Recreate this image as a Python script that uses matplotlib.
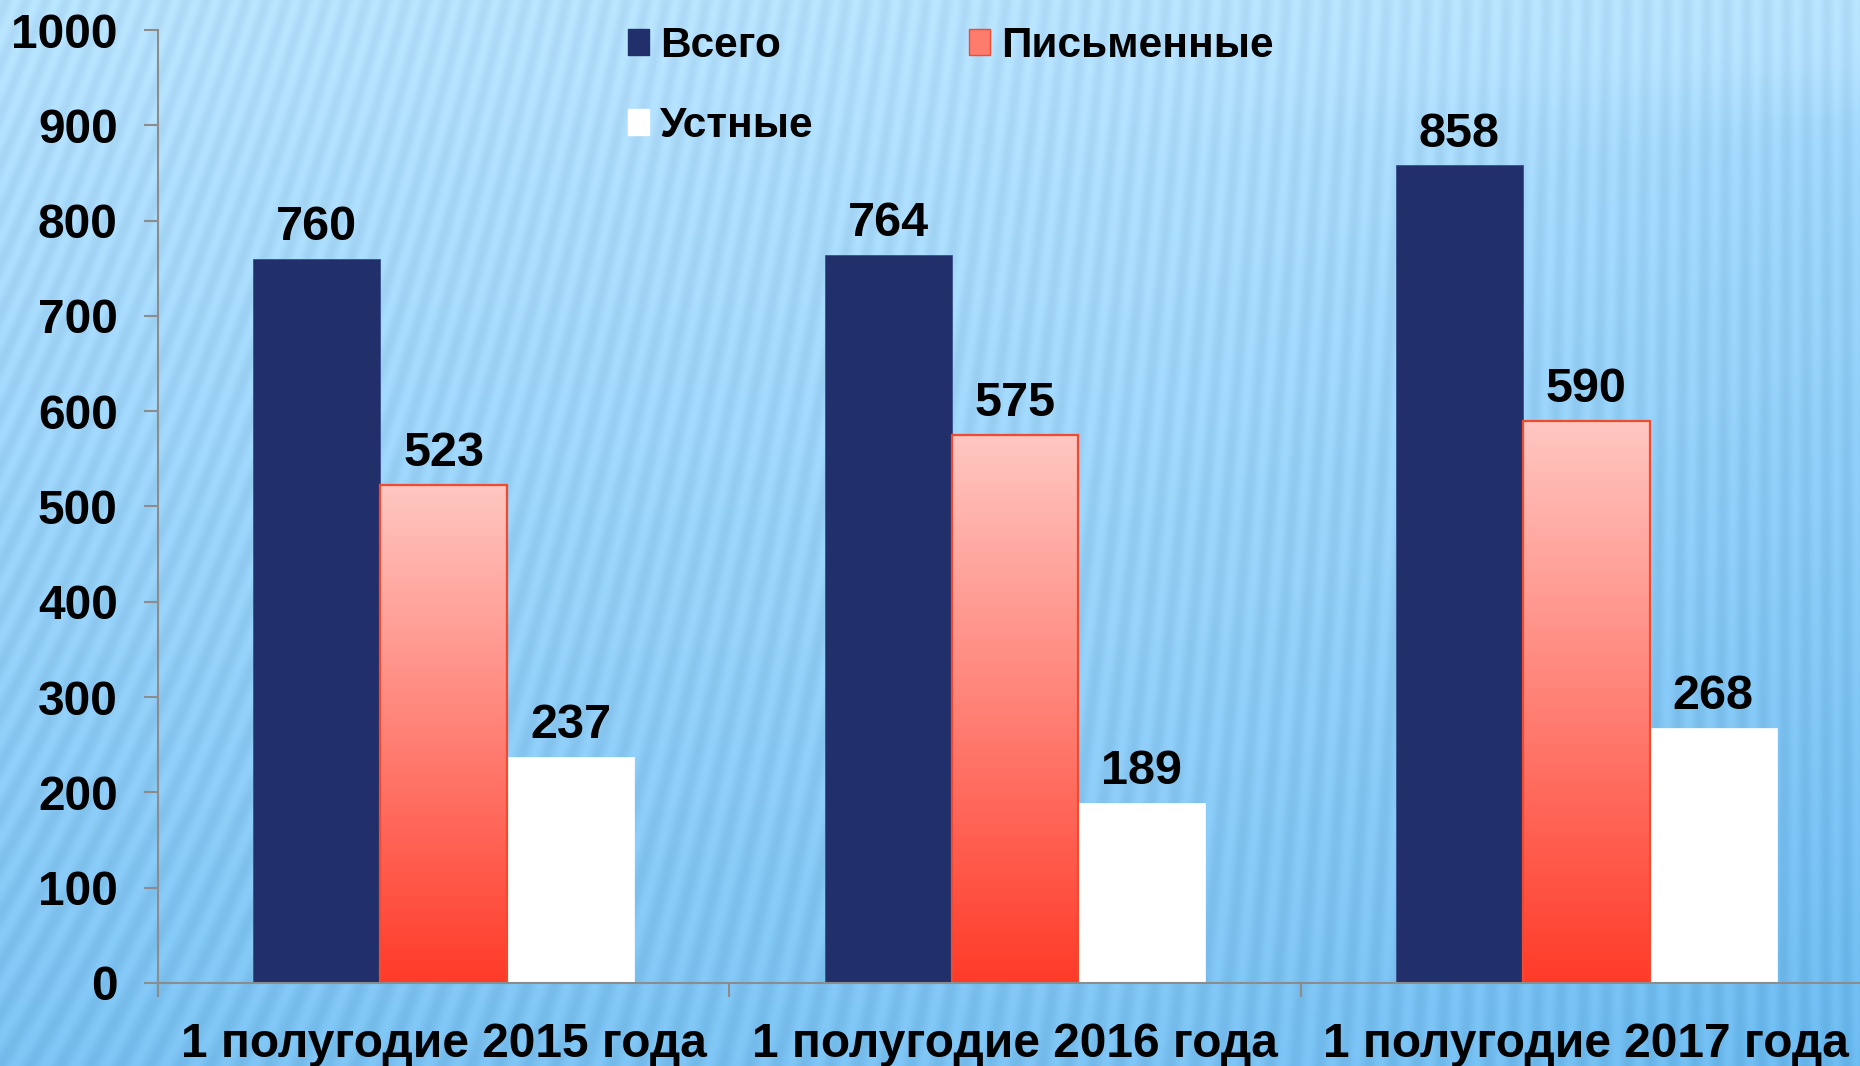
# -*- coding: utf-8 -*-
# Grouped bar chart: written / oral / total requests by half-year
import numpy as np
import matplotlib
matplotlib.use('Agg')
import matplotlib.pyplot as plt
from matplotlib.patches import Rectangle

plt.rcParams['font.family'] = ['Liberation Sans', 'DejaVu Sans']
plt.rcParams['font.weight'] = 'bold'

# Data
categories = ['1 полугодие 2015 года', '1 полугодие 2016 года', '1 полугодие 2017 года']
series_names = ['Всего', 'Письменные', 'Устные']
total = [760, 764, 858]
written = [523, 575, 590]
oral = [237, 189, 268]
y_ticks = [0, 100, 200, 300, 400, 500, 600, 700, 800, 900, 1000]

navy = '#212f6b'
red_top = np.array([1.0, 0.78, 0.76])
red_bottom = np.array([1.0, 0.23, 0.16])
red_edge = '#f04a2f'

fig = plt.figure(figsize=(18.6, 10.66), dpi=100)

# Background: light blue gradient with soft stripes
bg = fig.add_axes([0, 0, 1, 1], zorder=-10)
H, W = 533, 930
yy, xx = np.mgrid[0:H, 0:W]
yn = yy / H
xn = xx / W
top_c = np.array([0.71, 0.88, 0.99])
bot_c = np.array([0.41, 0.72, 0.93])
arc = 1 / (1 + np.exp(-(yn - (0.09 + 0.05 * (1 - xn))) * 60))
arc = arc * np.clip((xn - 0.6) / 0.4, 0, 1) ** 1.2
t = np.clip(0.78 * yn + 0.22 * arc, 0, 1)
img = top_c * (1 - t[..., None]) + bot_c * t[..., None]
slope = 0.4 * (1 - xn) ** 1.5
stripes = np.sin(2 * np.pi * (xx + slope * yy) / 10.0)
img = img - 0.025 * stripes[..., None]
bg.imshow(np.clip(img, 0, 1), aspect='auto', extent=(0, 1, 0, 1), interpolation='bilinear')
bg.set_axis_off()

left = 158 / 1860
right = 1872 / 1860
bottom = (1066 - 983) / 1066
top = (1066 - 30) / 1066
ax = fig.add_axes([left, bottom, right - left, top - bottom])
ax.set_facecolor('none')

x = np.arange(len(categories))
w = 0.222

b1 = ax.bar(x - w, total, w, color=navy, edgecolor='#3b4f8f', linewidth=0.6, zorder=3)
b2 = ax.bar(x, written, w, color='none', edgecolor=red_edge, linewidth=1.6, zorder=4)
b3 = ax.bar(x + w, oral, w, color='white', edgecolor='white', linewidth=0.5, zorder=3)

# gradient fill for written bars
grad = np.linspace(0, 1, 256)[:, None]
grad_img = red_top * (1 - grad[..., None]) + red_bottom * grad[..., None]
for bar in b2:
    x0 = bar.get_x()
    h = bar.get_height()
    im = ax.imshow(grad_img, extent=(x0, x0 + bar.get_width(), 0, h),
                   aspect='auto', zorder=3.5, interpolation='bilinear')
    clip = Rectangle((x0, 0), bar.get_width(), h, transform=ax.transData)
    im.set_clip_path(clip)

for bars, vals in [(b1, total), (b2, written), (b3, oral)]:
    for bar, v in zip(bars, vals):
        ax.annotate(str(v), (bar.get_x() + bar.get_width() / 2, v),
                    xytext=(0, 13.5), textcoords='offset points',
                    ha='center', va='baseline', fontsize=35, fontweight='bold', zorder=5)

ax.set_xlim(-0.5, 2.5)
ax.set_ylim(0, 1000)
ax.set_yticks(y_ticks)
ax.set_yticklabels([str(v) for v in y_ticks])
ax.set_xticks([-0.5, 0.5, 1.5, 2.5])
ax.set_xticklabels([])
ax.set_xticks(x, minor=True)
ax.set_xticklabels(categories, minor=True)

grey = '#8c8c8c'
for s in ['top', 'right']:
    ax.spines[s].set_visible(False)
for s in ['left', 'bottom']:
    ax.spines[s].set_color(grey)
    ax.spines[s].set_linewidth(1.5)
    ax.spines[s].set_zorder(6)
ax.tick_params(axis='y', length=10, width=1.5, color=grey, pad=19, labelsize=34.5)
ax.tick_params(axis='x', which='major', length=10, width=1.5, color=grey)
ax.tick_params(axis='x', which='minor', length=0, pad=28, labelsize=34.5)

handles = [Rectangle((0, 0), 1, 1, facecolor=navy, edgecolor=navy),
           Rectangle((0, 0), 1, 1, facecolor='white', edgecolor='white'),
           Rectangle((0, 0), 1, 1, facecolor='#ff7b6b', edgecolor=red_edge)]
labels = [series_names[0], series_names[2], series_names[1]]
fig.legend(handles, labels, ncol=2, loc='upper left',
           bbox_to_anchor=(628 / 1860, 1 - 26 / 1066), frameon=False,
           prop={'size': 30.5, 'weight': 'bold'}, handlelength=0.5, handleheight=0.55,
           handletextpad=0.26, columnspacing=3.67, labelspacing=0.95, borderpad=0,
           borderaxespad=0)

fig.savefig('out.png', dpi=100)
